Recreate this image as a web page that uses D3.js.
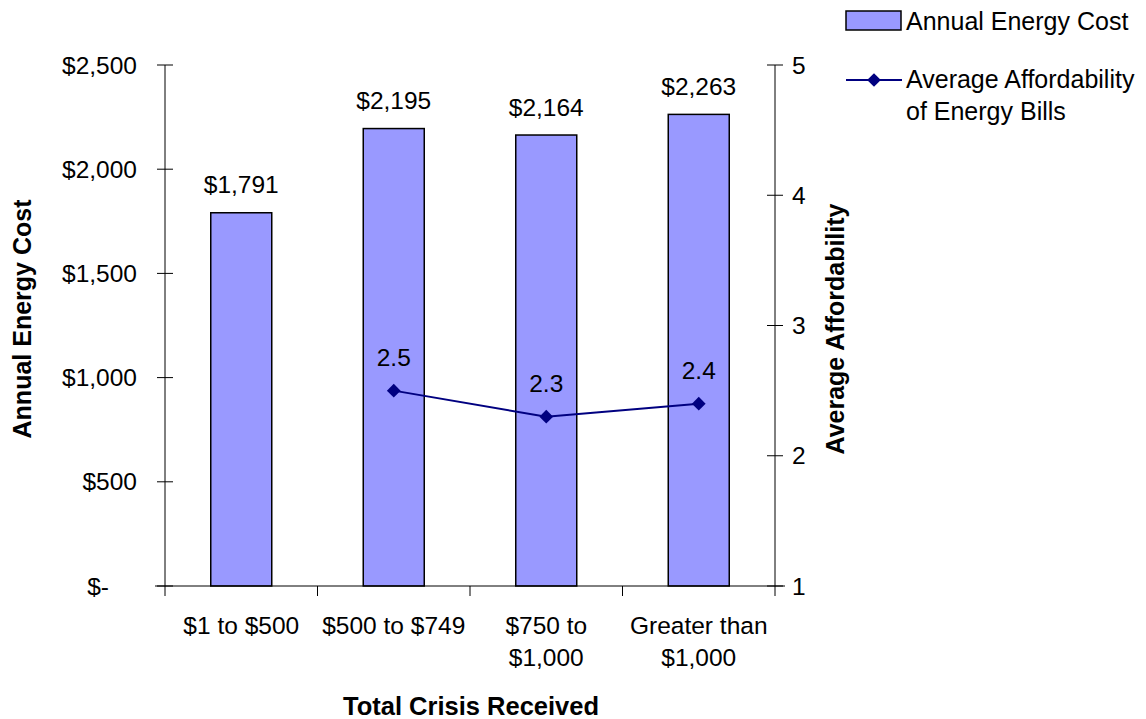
<!DOCTYPE html>
<html><head><meta charset="utf-8">
<script src="https://cdn.jsdelivr.net/npm/d3@7"></script>
<style>body{margin:0;background:#fff}svg{display:block;font-family:"Liberation Sans",Arial,sans-serif}</style>
</head><body><svg id="c" width="1146" height="719"></svg>
<script>
const categories = [["$1 to $500"], ["$500 to $749"], ["$750 to", "$1,000"], ["Greater than", "$1,000"]];
const energyCost = [1791, 2195, 2164, 2263];
const affordability = [null, 2.5, 2.3, 2.4];
const leftTicks = [0, 500, 1000, 1500, 2000, 2500];
const rightTicks = [1, 2, 3, 4, 5];

const FS = 24.5;
const svg = d3.select("#c");
const L = 165, R = 775, T = 65, B = 586;
const x = d3.scaleBand().domain(d3.range(categories.length)).range([L, R]);
const yL = d3.scaleLinear().domain([0, 2500]).range([B, T]);
const yR = d3.scaleLinear().domain([1, 5]).range([B, T]);
const fmt = v => v === 0 ? "$-" : "$" + d3.format(",")(v);

// left axis
svg.append("line").attr("x1", L).attr("x2", L).attr("y1", T).attr("y2", B).attr("stroke", "#000");
leftTicks.forEach(t => {
  svg.append("line").attr("x1", L - 8).attr("x2", L + 8).attr("y1", yL(t)).attr("y2", yL(t)).attr("stroke", "#000");
  svg.append("text").attr("x", t === 0 ? L - 56 : L - 28).attr("y", yL(t)).attr("dy", "0.35em").attr("text-anchor", "end")
    .attr("font-size", FS).text(fmt(t));
});
// right axis
svg.append("line").attr("x1", R).attr("x2", R).attr("y1", T).attr("y2", B).attr("stroke", "#000");
rightTicks.forEach(t => {
  svg.append("line").attr("x1", R - 8).attr("x2", R + 8).attr("y1", yR(t)).attr("y2", yR(t)).attr("stroke", "#000");
  svg.append("text").attr("x", R + 17).attr("y", yR(t)).attr("dy", "0.35em").attr("font-size", FS).text(t);
});

// bars
const bw = x.bandwidth() * 0.4;
svg.selectAll("rect.bar").data(energyCost).join("rect").attr("class", "bar")
  .attr("x", (d, i) => x(i) + x.bandwidth() / 2 - bw / 2).attr("width", bw)
  .attr("y", d => yL(d)).attr("height", d => B - yL(d))
  .attr("fill", "#9999ff").attr("stroke", "#000").attr("stroke-width", 1.5);
svg.selectAll("text.bl").data(energyCost).join("text").attr("class", "bl")
  .attr("x", (d, i) => x(i) + x.bandwidth() / 2).attr("y", d => yL(d) - 28).attr("dy", "0.35em")
  .attr("text-anchor", "middle").attr("font-size", FS).text(d => fmt(d));

// x axis
svg.append("line").attr("x1", L - 10).attr("x2", R + 10).attr("y1", B).attr("y2", B).attr("stroke", "#000");
d3.range(categories.length + 1).forEach(i => {
  const xx = L + i * x.step();
  svg.append("line").attr("x1", xx).attr("x2", xx).attr("y1", B).attr("y2", B + 10).attr("stroke", "#000");
});
categories.forEach((c, i) => {
  const t = svg.append("text").attr("text-anchor", "middle").attr("font-size", FS);
  c.forEach((s, j) => t.append("tspan").attr("x", x(i) + x.bandwidth() / 2).attr("y", 625 + j * 32).attr("dy", "0.35em").text(s));
});

// line
const pts = affordability.map((v, i) => ({v, i})).filter(d => d.v != null);
const line = d3.line().x(d => x(d.i) + x.bandwidth() / 2).y(d => yR(d.v));
svg.append("path").datum(pts).attr("d", line).attr("fill", "none").attr("stroke", "#000080").attr("stroke-width", 2);
const diamond = d3.symbol().type(d3.symbolDiamond2).size(120);
svg.selectAll("path.pt").data(pts).join("path").attr("class", "pt")
  .attr("transform", d => `translate(${x(d.i) + x.bandwidth() / 2},${yR(d.v)})`)
  .attr("d", diamond).attr("fill", "#000080");
svg.selectAll("text.pl").data(pts).join("text").attr("class", "pl")
  .attr("x", d => x(d.i) + x.bandwidth() / 2).attr("y", d => yR(d.v) - 33).attr("dy", "0.35em")
  .attr("text-anchor", "middle").attr("font-size", FS).text(d => d3.format(".1f")(d.v));

// axis titles
svg.append("text").attr("x", 471).attr("y", 706).attr("dy", "0.35em").attr("text-anchor", "middle")
  .attr("font-size", 25.5).attr("font-weight", "bold").text("Total Crisis Received");
svg.append("text").attr("transform", "translate(22,319) rotate(-90)").attr("dy", "0.35em").attr("text-anchor", "middle")
  .attr("font-size", 25).attr("font-weight", "bold").text("Annual Energy Cost");
svg.append("text").attr("transform", "translate(835,329) rotate(-90)").attr("dy", "0.35em").attr("text-anchor", "middle")
  .attr("font-size", 25).attr("font-weight", "bold").text("Average Affordability");

// legend
svg.append("rect").attr("x", 846).attr("y", 11).attr("width", 55).attr("height", 19)
  .attr("fill", "#9999ff").attr("stroke", "#000").attr("stroke-width", 1.5);
svg.append("text").attr("x", 906).attr("y", 21).attr("dy", "0.35em").attr("font-size", 25).text("Annual Energy Cost");
svg.append("line").attr("x1", 846).attr("x2", 902).attr("y1", 80).attr("y2", 80).attr("stroke", "#000080").attr("stroke-width", 2);
svg.append("path").attr("transform", "translate(874,80)").attr("d", diamond).attr("fill", "#000080");
svg.append("text").attr("x", 906).attr("y", 79).attr("dy", "0.35em").attr("font-size", 25).text("Average Affordability");
svg.append("text").attr("x", 906).attr("y", 111).attr("dy", "0.35em").attr("font-size", 25).text("of Energy Bills");
</script></body></html>
